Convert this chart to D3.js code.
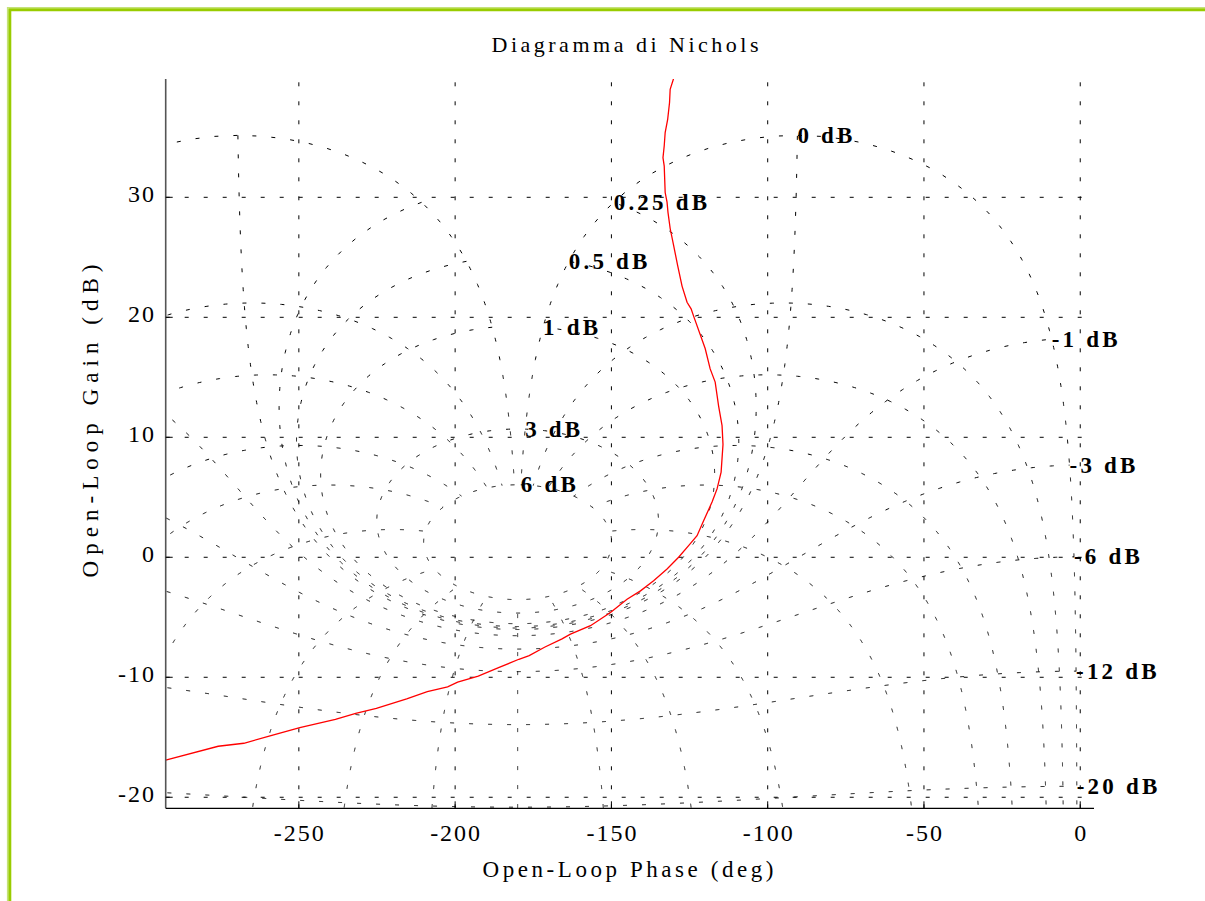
<!DOCTYPE html>
<html><head><meta charset="utf-8">
<script src="https://cdn.jsdelivr.net/npm/d3@7"></script>
<style>
body{margin:0;background:#fff}
svg{display:block}
text{font-family:"Liberation Serif","Times New Roman",serif;fill:#000}
</style>
</head><body>
<svg id="chart" width="1205" height="901"></svg>
<script>
// ---- data ----
const xTicks = [-250, -200, -150, -100, -50, 0];
const yTicks = [-20, -10, 0, 10, 20, 30];
const phaseDomain = [-292.6, 4.4];
const gainDomain = [-20.92, 39.86];
// Nichols grid: closed-loop magnitude levels (dB) and closed-loop phase levels (deg)
const mLevels = [6, 3, 1, 0.5, 0.25, 0, -1, -3, -6, -12, -20];
const nPhases = [1, 5, 10, 20, 30, 50, 90, 120, 150, 180];
const nGainRange = [-35, 6];   // closed-loop gain span of the phase contours (dB)
// open-loop response (phase deg, gain dB)
const curvePhase = [-292.6,-275.8,-267.6,-259.5,-249.7,-238.3,-231.8,-225.2,-215.5,-208.9,-202.4,-199.2,-192.6,-186.1,-179.6,-176.3,-171.4,-165.8,-163.1,-156.7,-150.3,-145.0,-140.7,-136.5,-132.2,-128.5,-125.3,-122.6,-120.5,-117.8,-116.2,-114.9,-114.3,-114.6,-115.7,-116.8,-118.4,-120.0,-123.7,-124.5,-125.8,-127.4,-128.8,-130.1,-131.2,-131.9,-132.2,-132.8,-133.1,-133.5,-133.1,-132.8,-132.0,-131.4,-131.2,-130.1,-129.8];
const curveGain  = [-16.9,-15.75,-15.5,-14.9,-14.2,-13.5,-13.0,-12.6,-11.8,-11.2,-10.8,-10.4,-9.9,-9.2,-8.5,-8.2,-7.5,-6.8,-6.4,-5.7,-4.6,-3.5,-2.8,-1.95,-0.97,0,0.97,1.8,3.05,4.6,5.7,7.1,9.4,10.97,12.6,14.6,15.7,17.4,20.1,20.7,21.25,22.6,24.3,26.0,27.4,28.75,29.6,30.4,32.6,33.3,34.3,35.4,36.5,37.9,39.0,39.9,40.5];
const titleText = "Diagramma di Nichols";
const xLabel = "Open-Loop Phase (deg)";
const yLabel = "Open-Loop Gain (dB)";

// ---- layout ----
const L = 165.7, R = 1094, T = 79, B = 808.3;
const svg = d3.select("#chart");
const x = d3.scaleLinear().domain(phaseDomain).range([L, R]);
const y = d3.scaleLinear().domain(gainDomain).range([B, T]);

// frame
svg.append("path").attr("d", "M7.5,901 V7.5 H1205").attr("fill","none").attr("stroke","#c4e27a").attr("stroke-width",1.2);
svg.append("path").attr("d", "M9.8,901 V9.8 H1205").attr("fill","none").attr("stroke","#99cc00").attr("stroke-width",3);

svg.append("defs").append("clipPath").attr("id","clip")
  .append("rect").attr("x",L).attr("y",T).attr("width",R-L).attr("height",B-T);

const plot = svg.append("g").attr("clip-path","url(#clip)");
const dash = "4 15";

// rectangular grid
plot.selectAll("line.vg").data(xTicks).join("line")
  .attr("x1",d=>x(d)).attr("x2",d=>x(d)).attr("y1",B).attr("y2",T)
  .attr("stroke","#000").attr("stroke-width",1).attr("stroke-dasharray",dash);
plot.selectAll("line.hg").data(yTicks).join("line")
  .attr("x1",L).attr("x2",R).attr("y1",d=>y(d)).attr("y2",d=>y(d))
  .attr("stroke","#000").attr("stroke-width",1).attr("stroke-dasharray",dash);

// closed-loop -> open-loop mapping  G = Tc/(1-Tc)
function cl2ol(re, im){
  const dr = 1-re, di = -im, den = dr*dr+di*di;
  const gr = (re*dr + im*di)/den, gi = (im*dr - re*di)/den;
  let ph = Math.atan2(gi, gr)*180/Math.PI; if (ph > 0) ph -= 360;
  return [ph, 10*Math.log10(gr*gr+gi*gi)];
}
const rad = Math.PI/180;
const line = d3.line().x(d=>x(d[0])).y(d=>y(d[1]));

// M contours
const mCurves = mLevels.map(m=>{
  const M = Math.pow(10, m/20), pts = [];
  for (let t = 1; t <= 359.0001; t += 0.2) pts.push(cl2ol(M*Math.cos(t*rad), M*Math.sin(t*rad)));
  return pts;
});
plot.selectAll("path.m").data(mCurves).join("path")
  .attr("d", line).attr("fill","none").attr("stroke","#000").attr("stroke-width",1).attr("stroke-dasharray",dash);

// N contours (and mirror images about -180 deg)
const nCurves = [];
nPhases.forEach(n=>{
  const pts = [];
  for (let rdb = nGainRange[0]; rdb <= nGainRange[1] + 1e-9; rdb += 0.02){
    const r = Math.pow(10, rdb/20);
    let p = cl2ol(r*Math.cos(-n*rad), r*Math.sin(-n*rad));
    if (n === 180) p = [-180, p[1]];
    pts.push(p);
  }
  nCurves.push(pts);
  if (n !== 180) nCurves.push(pts.map(p=>[-360-p[0], p[1]]));
});
plot.selectAll("path.n").data(nCurves).join("path")
  .attr("d", line).attr("fill","none").attr("stroke","#000").attr("stroke-width",1).attr("stroke-dasharray",dash);

// open-loop curve
const curve = curvePhase.map((p,i)=>[p, curveGain[i]]);
plot.append("path").datum(curve).attr("d", line).attr("fill","none")
  .attr("stroke","#ff0000").attr("stroke-width",1.3);

// M labels at the contour end (theta = -1 deg)
svg.selectAll("text.ml").data(mLevels).join("text")
  .attr("x", m=>{const M=Math.pow(10,m/20); return x(cl2ol(M*Math.cos(-rad), M*Math.sin(-rad))[0]);})
  .attr("y", m=>{const M=Math.pow(10,m/20); return y(cl2ol(M*Math.cos(-rad), M*Math.sin(-rad))[1]) + 7.5;})
  .attr("font-size", 23).attr("font-weight","bold").attr("letter-spacing", 3.2)
  .text(m=>m + " dB");

// axes
svg.append("line").attr("x1",L).attr("x2",L).attr("y1",T).attr("y2",B).attr("stroke","#555").attr("stroke-width",1.6);
svg.append("line").attr("x1",L).attr("x2",R).attr("y1",B).attr("y2",B).attr("stroke","#000").attr("stroke-width",1.2);
svg.selectAll("line.xt").data(xTicks).join("line")
  .attr("x1",d=>x(d)).attr("x2",d=>x(d)).attr("y1",B).attr("y2",B-7).attr("stroke","#000");
svg.selectAll("line.yt").data(yTicks).join("line")
  .attr("x1",L).attr("x2",L+7).attr("y1",d=>y(d)).attr("y2",d=>y(d)).attr("stroke","#000");

svg.selectAll("text.xl").data(xTicks).join("text")
  .attr("x",d=>x(d)+1).attr("y",841).attr("text-anchor","middle")
  .attr("font-size",24).attr("letter-spacing",2).text(d=>d);
svg.selectAll("text.yl").data(yTicks).join("text")
  .attr("x",156).attr("y",d=>y(d)+5).attr("text-anchor","end")
  .attr("font-size",24).attr("letter-spacing",2).text(d=>d);

svg.append("text").attr("x",625).attr("y",52).attr("text-anchor","middle")
  .attr("font-size",22).attr("textLength",267).attr("lengthAdjust","spacing").text(titleText);
svg.append("text").attr("x",628).attr("y",877).attr("text-anchor","middle")
  .attr("font-size",23).attr("textLength",291).attr("lengthAdjust","spacing").text(xLabel);
svg.append("text").attr("transform","translate(98,421) rotate(-90)").attr("text-anchor","middle")
  .attr("font-size",23).attr("textLength",313).attr("lengthAdjust","spacing").text(yLabel);
</script>
</body></html>
